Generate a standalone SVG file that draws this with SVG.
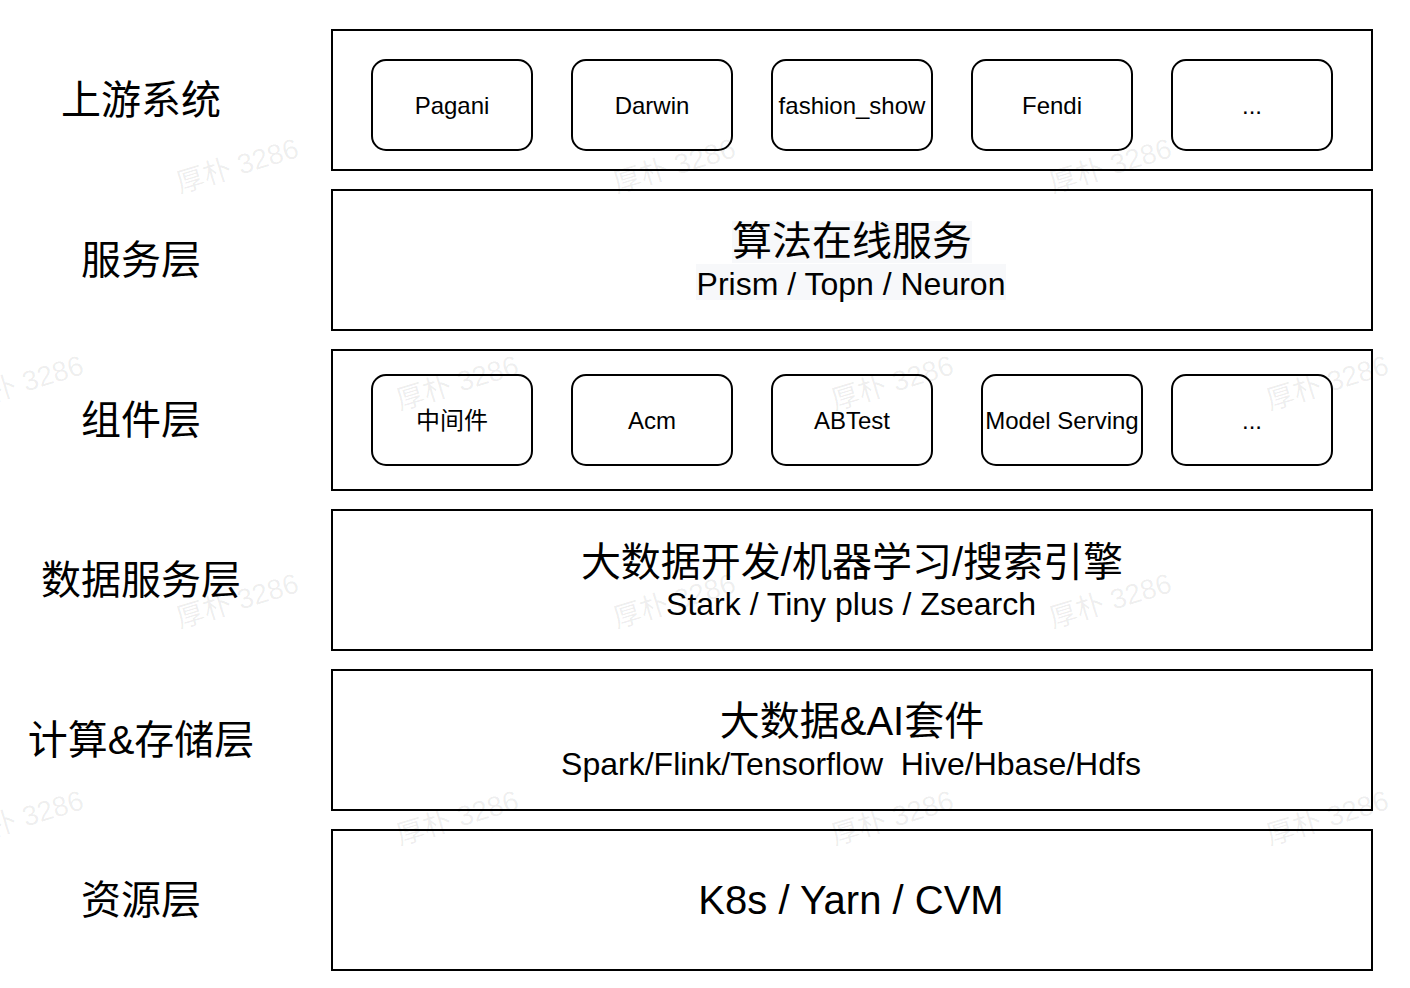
<svg xmlns="http://www.w3.org/2000/svg" width="1410" height="988" viewBox="0 0 1410 988">
<style>
.layer{fill:#fff;stroke:#000;stroke-width:2}
.box{fill:#fff;stroke:#000;stroke-width:2}
.lbl{font-family:"Liberation Sans","Noto Sans CJK SC",sans-serif;font-size:40px;fill:#000;text-anchor:middle}
.in{font-family:"Liberation Sans","Noto Sans CJK SC",sans-serif;font-size:24px;fill:#000;text-anchor:middle}
.big{font-family:"Liberation Sans","Noto Sans CJK SC",sans-serif;font-size:40px;fill:#000;text-anchor:middle}
.sub{font-family:"Liberation Sans","Noto Sans CJK SC",sans-serif;font-size:32px;fill:#000;text-anchor:middle}
.wm{font-family:"Liberation Sans","Noto Sans CJK SC",sans-serif;font-size:28px;fill:#000;fill-opacity:0.07;text-anchor:middle}
</style>
<rect width="1410" height="988" fill="#fff"/>
<g id="labels">
<text class="lbl" x="141" y="114">上游系统</text>
<text class="lbl" x="141" y="274">服务层</text>
<text class="lbl" x="141" y="434">组件层</text>
<text class="lbl" x="141" y="594">数据服务层</text>
<text class="lbl" x="141" y="754">计算&amp;存储层</text>
<text class="lbl" x="141" y="914">资源层</text>
</g>
<g id="upstream">
<rect class="layer" x="332" y="30" width="1040" height="140"/>
<g id="pagani"><rect class="box" x="372" y="60" width="160" height="90" rx="14"/><text class="in" x="452" y="114">Pagani</text></g>
<g id="darwin"><rect class="box" x="572" y="60" width="160" height="90" rx="14"/><text class="in" x="652" y="114">Darwin</text></g>
<g id="fashion"><rect class="box" x="772" y="60" width="160" height="90" rx="14"/><text class="in" x="852" y="114">fashion_show</text></g>
<g id="fendi"><rect class="box" x="972" y="60" width="160" height="90" rx="14"/><text class="in" x="1052" y="114">Fendi</text></g>
<g id="more1"><rect class="box" x="1172" y="60" width="160" height="90" rx="14"/><text class="in" x="1252" y="114">...</text></g>
</g>
<g id="service">
<rect class="layer" x="332" y="190" width="1040" height="140"/>
<rect x="732" y="221" width="240" height="42" fill="#f7f8fa"/>
<rect x="696" y="264" width="310" height="36" fill="#f7f8fa"/>
<text class="big" x="852" y="255">算法在线服务</text>
<text class="sub" x="851" y="295">Prism / Topn / Neuron</text>
</g>
<g id="component">
<rect class="layer" x="332" y="350" width="1040" height="140"/>
<g id="middleware"><rect class="box" x="372" y="375" width="160" height="90" rx="14"/><text class="in" x="452" y="429">中间件</text></g>
<g id="acm"><rect class="box" x="572" y="375" width="160" height="90" rx="14"/><text class="in" x="652" y="429">Acm</text></g>
<g id="abtest"><rect class="box" x="772" y="375" width="160" height="90" rx="14"/><text class="in" x="852" y="429">ABTest</text></g>
<g id="modelserving"><rect class="box" x="982" y="375" width="160" height="90" rx="14"/><text class="in" x="1062" y="429">Model Serving</text></g>
<g id="more2"><rect class="box" x="1172" y="375" width="160" height="90" rx="14"/><text class="in" x="1252" y="429">...</text></g>
</g>
<g id="dataservice">
<rect class="layer" x="332" y="510" width="1040" height="140"/>
<text class="big" x="852" y="576">大数据开发/机器学习/搜索引擎</text>
<text class="sub" x="851" y="615">Stark / Tiny plus / Zsearch</text>
</g>
<g id="compute">
<rect class="layer" x="332" y="670" width="1040" height="140"/>
<text class="big" x="852" y="735">大数据&amp;AI套件</text>
<text class="sub" x="851" y="775" xml:space="preserve">Spark/Flink/Tensorflow  Hive/Hbase/Hdfs</text>
</g>
<g id="resource">
<rect class="layer" x="332" y="830" width="1040" height="140"/>
<text class="big" x="851" y="914">K8s / Yarn / CVM</text>
</g>
<g id="connectors"/>
<g id="watermarks">
<text class="wm" transform="translate(240,175) rotate(-17)">厚朴 3286</text>
<text class="wm" transform="translate(677,175) rotate(-17)">厚朴 3286</text>
<text class="wm" transform="translate(1113,175) rotate(-17)">厚朴 3286</text>
<text class="wm" transform="translate(25,392) rotate(-17)">厚朴 3286</text>
<text class="wm" transform="translate(460,392) rotate(-17)">厚朴 3286</text>
<text class="wm" transform="translate(895,392) rotate(-17)">厚朴 3286</text>
<text class="wm" transform="translate(1330,392) rotate(-17)">厚朴 3286</text>
<text class="wm" transform="translate(240,610) rotate(-17)">厚朴 3286</text>
<text class="wm" transform="translate(677,610) rotate(-17)">厚朴 3286</text>
<text class="wm" transform="translate(1113,610) rotate(-17)">厚朴 3286</text>
<text class="wm" transform="translate(25,827) rotate(-17)">厚朴 3286</text>
<text class="wm" transform="translate(460,827) rotate(-17)">厚朴 3286</text>
<text class="wm" transform="translate(895,827) rotate(-17)">厚朴 3286</text>
<text class="wm" transform="translate(1330,827) rotate(-17)">厚朴 3286</text>
</g>
</svg>
